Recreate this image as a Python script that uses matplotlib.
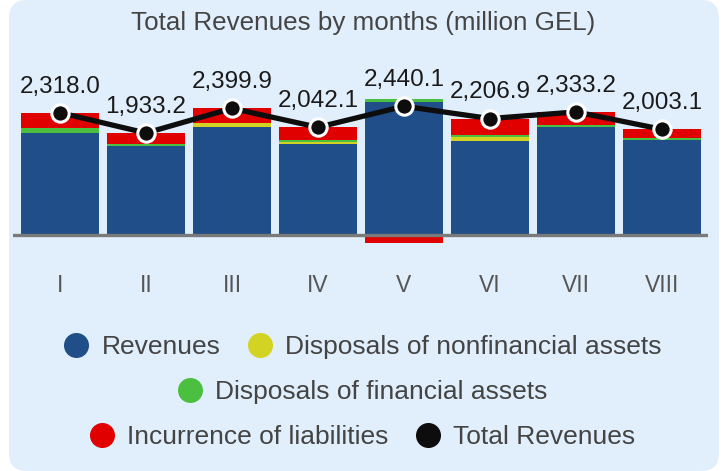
import matplotlib
matplotlib.use("Agg")
import matplotlib.pyplot as plt
from matplotlib.patches import FancyBboxPatch
from matplotlib.lines import Line2D
import numpy as np

plt.rcParams['font.family'] = ['Liberation Sans', 'DejaVu Sans']

months = ["I", "II", "III", "IV", "V", "VI", "VII", "VIII"]
revenues = [1930, 1690, 2040, 1725, 2530, 1775, 2048, 1800]
nonfin = [0, 5, 75, 37, 0, 75, 0, 0]
fin = [105, 35, 0, 35, 55, 37, 38, 35]
liabilities = [283, 203, 285, 245, -145, 320, 247, 168]
total = [2318.0, 1933.2, 2399.9, 2042.1, 2440.1, 2206.9, 2333.2, 2003.1]
total_labels = ["2,318.0", "1,933.2", "2,399.9", "2,042.1", "2,440.1", "2,206.9", "2,333.2", "2,003.1"]

C_REV = "#1f4e89"
C_NONFIN = "#d3d324"
C_FIN = "#4bbf3f"
C_LIAB = "#e00000"
C_TOT = "#0d0d0d"
BG = "#e1effc"

W, H = 726, 471
fig = plt.figure(figsize=(W / 100, H / 100), dpi=100)
fig.patch.set_facecolor("white")

# rounded background panel (pixel coordinates)
bg = fig.add_axes([0, 0, 1, 1], zorder=-10)
bg.set_xlim(0, W)
bg.set_ylim(H, 0)
bg.axis("off")
bg.add_patch(FancyBboxPatch((9, 0), 710, 471, boxstyle="round,pad=0,rounding_size=18",
                            facecolor=BG, edgecolor="none"))

ax_left, ax_right = 13, 708
ax_top, ax_bot = 60, 250
ax = fig.add_axes([ax_left / W, 1 - ax_bot / H, (ax_right - ax_left) / W, (ax_bot - ax_top) / H])
ax.set_facecolor("none")
ax.set_zorder(5)

x = np.arange(len(months))
bw = 0.9
rev = np.array(revenues, float)
nf = np.array(nonfin, float)
fi = np.array(fin, float)
li = np.array(liabilities, float)

ax.bar(x, rev, bw, color=C_REV, zorder=2)
ax.bar(x, nf, bw, bottom=rev, color=C_NONFIN, zorder=2)
ax.bar(x, fi, bw, bottom=rev + nf, color=C_FIN, zorder=2)
pos_bottom = rev + nf + fi
liab_bottom = np.where(li >= 0, pos_bottom, 0)
ax.bar(x, li, bw, bottom=liab_bottom, color=C_LIAB, zorder=2)

ax.axhline(0, color="#7a7a7a", lw=2.4, zorder=3)

ax.plot(x, total, color=C_TOT, lw=3.8, marker="o", ms=12.5, mfc=C_TOT,
        mec="white", mew=2.2, zorder=5)
for xi, v, lab in zip(x, total, total_labels):
    ax.annotate(lab, (xi, v), xytext=(0, 14.5), textcoords="offset points",
                ha="center", va="baseline", fontsize=17.5, color="#1a1a1a", zorder=6,
                annotation_clip=False)

px_per_unit = 0.05276
ax.set_ylim(-(ax_bot - 235) / px_per_unit, (235 - ax_top) / px_per_unit)
spacing = 86
ax.set_xlim(-(60 - ax_left) / spacing, (ax_right - 60) / spacing)

ax.set_xticks(x)
ax.set_xticklabels(months, fontsize=16.5, color="#555555")
ax.tick_params(axis="x", length=0, pad=17)
ax.set_yticks([])
for s in ax.spines.values():
    s.set_visible(False)

fig.text(0.5, 1 - 23 / H, "Total Revenues by months (million GEL)", ha="center", va="center",
         fontsize=18.7, color="#444444")

def h(color, label):
    return Line2D([], [], linestyle="none", marker="o", ms=17, mfc=color, mec=color, label=label)

rows = [
    ([h(C_REV, "Revenues"), h(C_NONFIN, "Disposals of nonfinancial assets")], 347),
    ([h(C_FIN, "Disposals of financial assets")], 392),
    ([h(C_LIAB, "Incurrence of liabilities"), h(C_TOT, "Total Revenues")], 437),
]
for handles, yc in rows:
    lg = fig.legend(handles=handles, ncol=len(handles), loc="center",
                    bbox_to_anchor=(0.5, 1 - yc / H), frameon=False,
                    fontsize=19, handletextpad=0.5, columnspacing=1.05,
                    handlelength=0.9, borderpad=0, borderaxespad=0)
    for t in lg.get_texts():
        t.set_color("#444444")

fig.savefig("out.png", dpi=100, facecolor=fig.get_facecolor())
